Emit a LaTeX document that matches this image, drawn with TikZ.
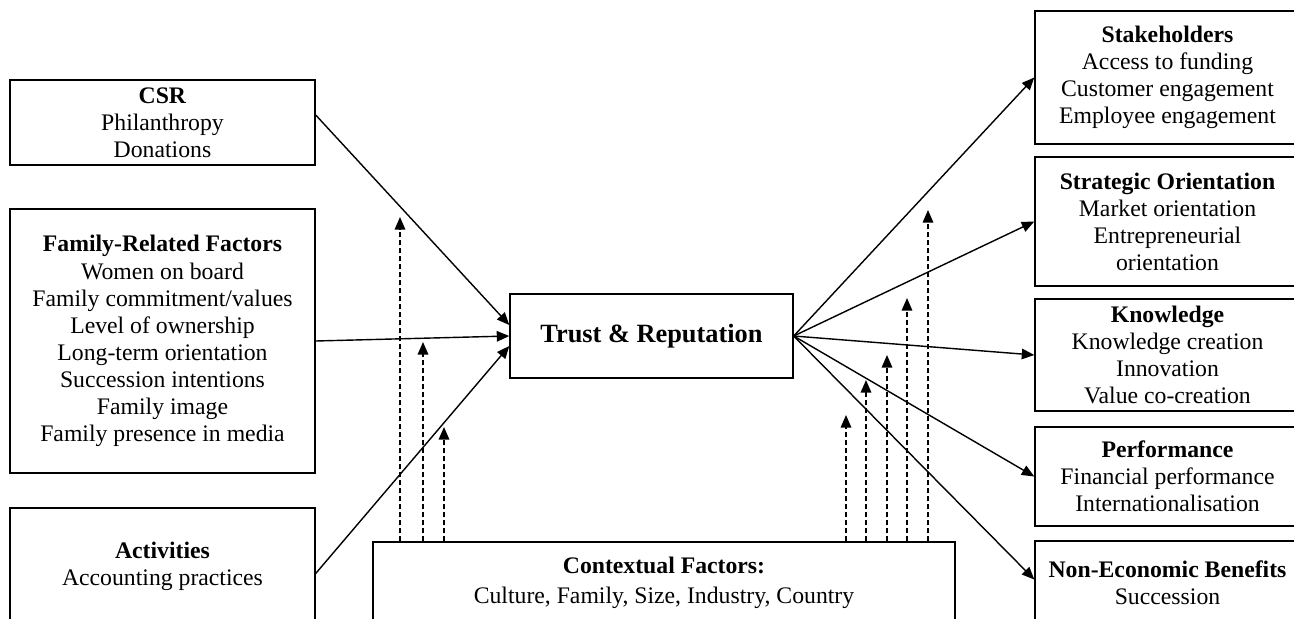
\documentclass[tikz,border=0pt]{standalone}
\usepackage{fontspec}
\setmainfont{Liberation Serif}
\usetikzlibrary{arrows.meta}

\begin{document}
\begin{tikzpicture}[
  box/.style={draw, line width=0.8pt, align=center, inner sep=0pt,
    font=\fontsize{13.5}{15.4}\selectfont},
  link/.style={line width=0.8pt, -{Triangle[length=2.5mm,width=2.1mm]}},
  ctxlink/.style={link, dash pattern=on 1mm off 0.6mm}]
\useasboundingbox (0,0) rectangle (25.88,-12.38);
% left side
\node[box, minimum width=6.1cm, minimum height=1.7cm] (csr) at (3.25,-2.45)
  {\textbf{CSR}\\Philanthropy\\Donations};
\node[box, minimum width=6.1cm, minimum height=5.28cm] (family) at (3.25,-6.82)
  {\textbf{Family-Related Factors}\\Women on board\\Family commitment/values\\Level of ownership\\Long-term orientation\\Succession intentions\\Family image\\Family presence in media};
\node[box, minimum width=6.1cm, minimum height=2.32cm] (activities) at (3.25,-11.32)
  {\textbf{Activities}\\Accounting practices};
% centre
\node[box, minimum width=5.66cm, minimum height=1.68cm, font=\fontsize{15}{18}\selectfont\bfseries] (trust) at (13.03,-6.72)
  {Trust \& Reputation};
\node[box, minimum width=11.64cm, minimum height=1.64cm] (context) at (13.28,-11.66)
  {\textbf{Contextual Factors:}\\[1.5pt]Culture, Family, Size, Industry, Country};
% right side
\node[box, minimum width=5.3cm, minimum height=2.66cm] (stake) at (23.35,-1.55)
  {\textbf{Stakeholders}\\Access to funding\\Customer engagement\\Employee engagement};
\node[box, minimum width=5.3cm, minimum height=2.58cm] (strategic) at (23.35,-4.43)
  {\textbf{Strategic Orientation}\\Market orientation\\Entrepreneurial\\orientation};
\node[box, minimum width=5.3cm, minimum height=2.24cm] (knowledge) at (23.35,-7.10)
  {\textbf{Knowledge}\\Knowledge creation\\Innovation\\Value co-creation};
\node[box, minimum width=5.3cm, minimum height=1.98cm] (perform) at (23.35,-9.53)
  {\textbf{Performance}\\Financial performance\\Internationalisation};
\node[box, minimum width=5.3cm, minimum height=1.66cm] (noneco) at (23.35,-11.65)
  {\textbf{Non-Economic Benefits}\\Succession};
% arrows into trust
\draw[link] ([yshift=0.15cm]csr.east) -- ([yshift=0.22cm]trust.west);
\draw[link] (family.east) -- (trust.west);
\draw[link] ([yshift=-0.15cm]activities.east) -- ([yshift=-0.2cm]trust.west);
% arrows out of trust
\draw[link] (trust.east) -- (stake.west);
\draw[link] (trust.east) -- (strategic.west);
\draw[link] (trust.east) -- (knowledge.west);
\draw[link] (trust.east) -- (perform.west);
\draw[link] (trust.east) -- ([yshift=0.06cm]noneco.west);
% contextual factors
\foreach \x/\y in {8.00/-4.34, 8.46/-6.84, 8.88/-8.54,
                   16.92/-8.30, 17.32/-7.60, 17.74/-7.10, 18.14/-5.96, 18.56/-4.20}
  \draw[ctxlink] (context.north -| \x,0) -- (\x,\y);
\end{tikzpicture}
\end{document}
